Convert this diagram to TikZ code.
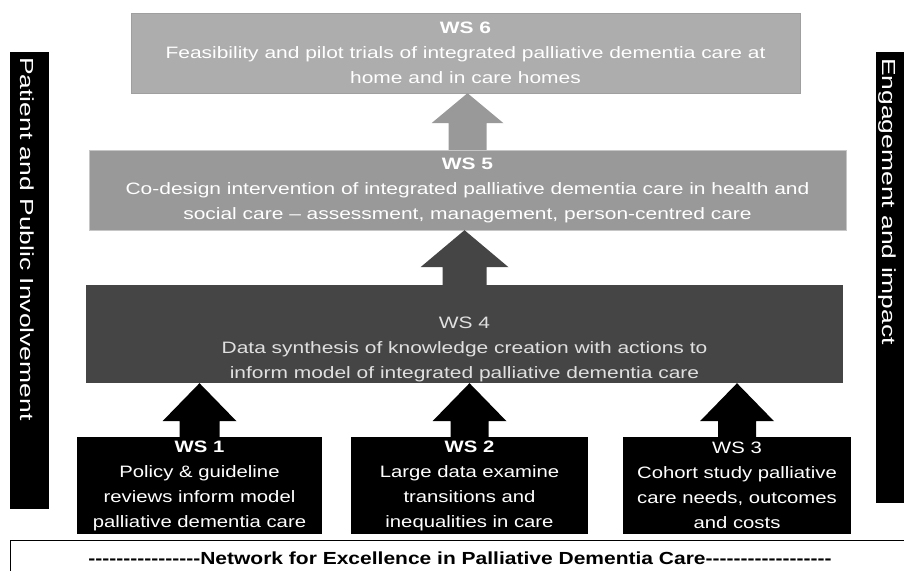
\documentclass[tikz,border=0pt]{standalone}
\usepackage{fontspec}
\setmainfont{Liberation Sans}[FakeStretch=1.23]
\newfontfamily\upperfont{Liberation Sans}[FakeStretch=1.27]
\newfontfamily\netfont{Liberation Sans}[FakeStretch=1.2]
\newfontfamily\sidefont{Liberation Sans}[FakeStretch=1.4]
\usepackage{tikz}
\usetikzlibrary{calc}
\definecolor{wssix}{gray}{0.68}
\definecolor{wsfive}{gray}{0.60}
\definecolor{wsfour}{gray}{0.27}
% upward block arrow: fill, foot, tip, half shaft, half wing, head length
\newcommand{\blockup}[6]{%
  \fill[#1] ($(#2)+(-#4,0)$) -- ($(#3)+(-#4,#6)$) -- ($(#3)+(-#5,#6)$) -- (#3)
    -- ($(#3)+(#5,#6)$) -- ($(#3)+(#4,#6)$) -- ($(#2)+(#4,0)$) -- cycle;}
% a run of plain hyphens
\newcommand{\dashrun}[1]{\foreach \i in {1,...,#1}{-\kern0pt}}

\begin{document}
\begin{tikzpicture}[x=1pt,y=-1pt,
    wsbox/.style={inner sep=0pt, text=white, align=center,
      font=\fontsize{16.5}{25}\selectfont},
    upperbox/.style={wsbox, font=\upperfont\fontsize{16.5}{25}\selectfont},
    sidebar/.style={fill=black, inner sep=0pt, minimum width=39pt},
    sidetext/.style={text=white, rotate=-90, anchor=west, inner sep=0pt,
      font=\sidefont\fontsize{18.9}{20}\selectfont}]
  \useasboundingbox (0,0) rectangle (904,570);
  % side bars
  \node[sidebar, minimum height=457pt] (ppi) at (29.5,280.5) {};
  \node[sidetext] (ppitext) at (27,57) {Patient and Public Involvement};
  \node[sidebar, minimum width=38pt, minimum height=451pt] (eai) at (895,277.5) {};
  \node[sidetext] (eaitext) at (887,58) {Engagement and impact};
  % work streams
  \node[upperbox, fill=wssix, draw=gray!75, minimum width=669pt, minimum height=80pt] (ws6) at (465.5,53)
    {\textbf{WS 6}\\Feasibility and pilot trials of integrated palliative dementia care at\\home and in care homes};
  \node[upperbox, fill=wsfive, draw=gray!45, minimum width=757pt, minimum height=80pt] (ws5) at (467.5,190)
    {\textbf{WS 5}\\Co-design intervention of integrated palliative dementia care in health and\\social care – assessment, management, person-centred care};
  \node[upperbox, fill=wsfour, minimum width=757pt, minimum height=98pt] (ws4) at (464.5,334) {};
  \node[upperbox, text=white!88!black] (ws4text) at ([yshift=-15pt]ws4.center)
    {WS 4\\Data synthesis of knowledge creation with actions to\\inform model of integrated palliative dementia care};
  \node[wsbox, fill=black, minimum width=245pt, minimum height=97pt] (ws1) at (199.5,485.5)
    {\textbf{WS 1}\\Policy \& guideline\\reviews inform model\\palliative dementia care};
  \node[wsbox, fill=black, minimum width=237pt, minimum height=97pt] (ws2) at (469.5,485.5)
    {\textbf{WS 2}\\Large data examine\\transitions and\\inequalities in care};
  \node[wsbox, fill=black, minimum width=228pt, minimum height=97pt] (ws3) at (737,485.5)
    {WS 3\\Cohort study palliative\\care needs, outcomes\\and costs};
  % arrows
  \blockup{wsfive}{ws5.north}{ws5.north |- ws6.south}{19}{36}{30}
  \blockup{wsfour}{ws4.north}{ws4.north |- ws5.south}{22}{44}{37}
  \blockup{black}{ws1.north}{ws1.north |- ws4.south}{20}{37}{38}
  \blockup{black}{ws2.north}{ws2.north |- ws4.south}{19}{37}{38}
  \blockup{black}{ws3.north}{ws3.north |- ws4.south}{19}{37}{38}
  % network
  \draw[line width=1pt] (10,540) rectangle (930,590);
  \node[font=\netfont\bfseries\fontsize{17.5}{20}\selectfont, inner sep=0pt] (network) at (460,558.6)
    {\dashrun{16}Network for Excellence in Palliative Dementia Care\dashrun{18}};
\end{tikzpicture}
\end{document}
